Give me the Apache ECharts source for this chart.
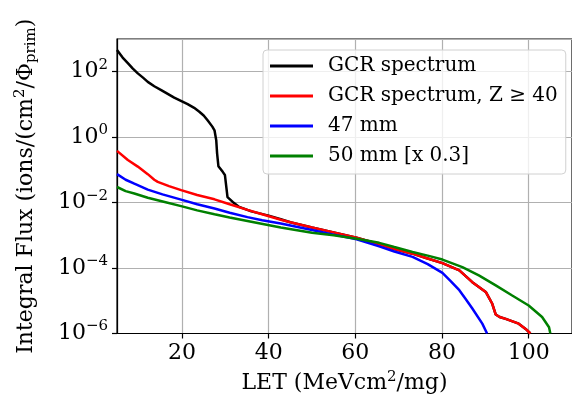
<!DOCTYPE html>
<html>
<head>
<meta charset="utf-8">
<script src="https://cdn.jsdelivr.net/npm/echarts@6/dist/echarts.min.js"></script>
<style>
    html, body { margin: 0; padding: 0; background: #fff; }
    #chart { width: 572px; height: 400px; }
</style>
</head>
<body>
<div id="chart"></div>
<script>
(function () {
    'use strict';

    // [LET, integral flux] pairs
    var gcrSpectrum = [
        [5, 460], [6.3, 270], [7.5, 182], [8.6, 126], [9.8, 89], [11, 66], [12.1, 49],
        [13.6, 36], [15.2, 27.5], [18.2, 16.2], [21.3, 10.2], [22.8, 7.9], [24.0, 6.0],
        [25.0, 4.6], [25.9, 3.3], [27.0, 2.1], [27.5, 1.62], [27.9, 0.81], [28.1, 0.32],
        [28.4, 0.13], [29.4, 0.087], [29.9, 0.07], [30.5, 0.0148], [31.7, 0.0105],
        [33.2, 0.0074], [36, 0.0054], [40, 0.004], [42.8, 0.0031], [45, 0.0025],
        [50, 0.00174], [55, 0.00123], [60.3, 8.5e-4], [65.5, 5.4e-4], [69, 3.8e-4],
        [73.2, 2.75e-4], [76.5, 2e-4], [80.1, 1.41e-4], [84, 8.5e-5], [87, 3.7e-5],
        [90.1, 1.86e-5], [91.6, 8.1e-6], [92.4, 3.8e-6], [93.3, 3.2e-6], [94.7, 2.8e-6],
        [97.7, 2e-6], [99.3, 1.38e-6], [100.4, 1e-6]
    ];
    var gcrZ40 = [
        [5, 0.38], [7.5, 0.2], [9.8, 0.126], [12.1, 0.074], [13.6, 0.05], [14.4, 0.043],
        [17, 0.032], [19.8, 0.024], [23.5, 0.017], [27.5, 0.0126], [31, 0.0089],
        [35.1, 0.006], [38.5, 0.0044], [42.8, 0.003], [45, 0.0025], [50, 0.00174],
        [55, 0.00123], [60.3, 8.5e-4], [65.5, 5.4e-4], [69, 3.8e-4], [73.2, 2.75e-4],
        [76.5, 2e-4], [80.1, 1.41e-4], [84, 8.5e-5], [87, 3.7e-5], [90.1, 1.86e-5],
        [91.6, 8.1e-6], [92.4, 3.8e-6], [93.3, 3.2e-6], [94.7, 2.8e-6], [97.7, 2e-6],
        [99.3, 1.38e-6], [100.4, 1e-6]
    ];
    var mm47 = [
        [5, 0.074], [7, 0.05], [9, 0.038], [12.1, 0.025], [15.5, 0.0178], [19.8, 0.0123],
        [23.5, 0.0089], [27.5, 0.0066], [31, 0.0049], [35.1, 0.0036], [38.5, 0.0029],
        [42.8, 0.0023], [50, 0.00145], [55, 0.00105], [60.3, 7.6e-4], [65.5, 4.6e-4],
        [69, 3.2e-4], [73.2, 2.2e-4], [76.7, 1.32e-4], [80.1, 7.1e-5], [82, 4e-5],
        [84, 2.1e-5], [85.5, 1.12e-5], [87, 5.8e-6], [89.3, 2e-6], [90.4, 1e-6]
    ];
    var mm50 = [
        [5, 0.030], [7, 0.0224], [9, 0.019], [12.1, 0.0141], [16, 0.0105], [19.8, 0.0078],
        [23.5, 0.0058], [27.5, 0.0044], [31, 0.0035], [35.1, 0.00275], [42.8, 0.00174],
        [50, 0.0012], [55, 0.001], [60.3, 7.9e-4], [65.5, 5.9e-4], [69, 4.4e-4],
        [73.2, 3.1e-4], [76.7, 2.4e-4], [80.1, 1.82e-4], [84.7, 1.07e-4], [88.5, 6e-5],
        [92.4, 2.95e-5], [96.2, 1.45e-5], [100, 7.2e-6], [103.1, 3.2e-6], [104.7, 1.55e-6],
        [105, 1e-6]
    ];

    var seriesNames = ['GCR spectrum', 'GCR spectrum, Z \u2265 40', '47 mm', '50 mm [x 0.3]'];
    var seriesData = [gcrSpectrum, gcrZ40, mm47, mm50];
    var seriesColors = ['#000000', '#ff0000', '#0000ff', '#008000'];

    var font = 'DejaVu Serif';

    var chart = echarts.init(document.getElementById('chart'));

    var series = seriesNames.map(function (name, i) {
        return {
            name: name,
            type: 'line',
            data: seriesData[i],
            showSymbol: false,
            color: seriesColors[i],
            lineStyle: { width: 2.5, color: seriesColors[i] }
        };
    });

    chart.setOption({
        animation: false,
        grid: {
            left: 117, top: 39, width: 456, height: 294.5,
            show: true, borderColor: '#000', borderWidth: 1.2
        },
        legend: {
            orient: 'vertical',
            left: 263, top: 50,
            data: seriesNames,
            icon: 'rect',
            itemWidth: 43, itemHeight: 3,
            itemGap: 6,
            padding: [4, 8, 6, 7],
            backgroundColor: 'rgba(255,255,255,0.8)',
            borderColor: '#d0d0d0', borderWidth: 1, borderRadius: 4,
            textStyle: {
                fontFamily: font, fontSize: 20, color: '#000',
                lineHeight: 24, padding: [0, 0, 0, 10]
            }
        },
        xAxis: {
            type: 'value',
            min: 5, max: 110,
            splitNumber: 5,
            name: 'LET (MeVcm{s|2}/mg)',
            nameLocation: 'middle',
            nameGap: 36,
            nameTextStyle: {
                fontFamily: font, fontSize: 22, color: '#000',
                rich: { s: { fontFamily: font, fontSize: 15, padding: [0, 0, 12, 0] } }
            },
            axisLine: { lineStyle: { color: '#000', width: 1.2 } },
            axisTick: { length: 5, lineStyle: { color: '#000', width: 1.2 } },
            axisLabel: {
                fontFamily: font, fontSize: 22, color: '#000', margin: 9,
                showMinLabel: false, showMaxLabel: false
            },
            splitLine: { lineStyle: { color: '#b0b0b0', width: 1.2 } }
        },
        yAxis: {
            type: 'log',
            logBase: 10,
            min: 1e-6, max: 1e3,
            interval: 2,
            name: 'Integral Flux (ions/(cm{s|2}/\u03a6{p|prim})',
            nameLocation: 'middle',
            nameGap: 77,
            nameTextStyle: {
                fontFamily: font, fontSize: 22, color: '#000',
                rich: {
                    s: { fontFamily: font, fontSize: 15, padding: [0, 0, 12, 0] },
                    p: { fontFamily: font, fontSize: 15, padding: [10, 0, 0, 0] }
                }
            },
            axisLine: { lineStyle: { color: '#000', width: 1.2 } },
            axisTick: { length: 5, lineStyle: { color: '#000', width: 1.2 } },
            axisLabel: {
                margin: 9,
                showMaxLabel: false,
                formatter: function (v) {
                    var e = Math.round(Math.log(v) / Math.LN10);
                    return '{b|10}{s|' + (e < 0 ? '\u2212' + (-e) : e) + '}';
                },
                rich: {
                    b: { fontFamily: font, fontSize: 22, color: '#000' },
                    s: { fontFamily: font, fontSize: 15, color: '#000', padding: [0, 0, 14, 0] }
                }
            },
            splitLine: { lineStyle: { color: '#b0b0b0', width: 1.2 } }
        },
        series: series
    });

    window.addEventListener('resize', function () {
        chart.resize();
    });
})();
</script>
</body>
</html>
